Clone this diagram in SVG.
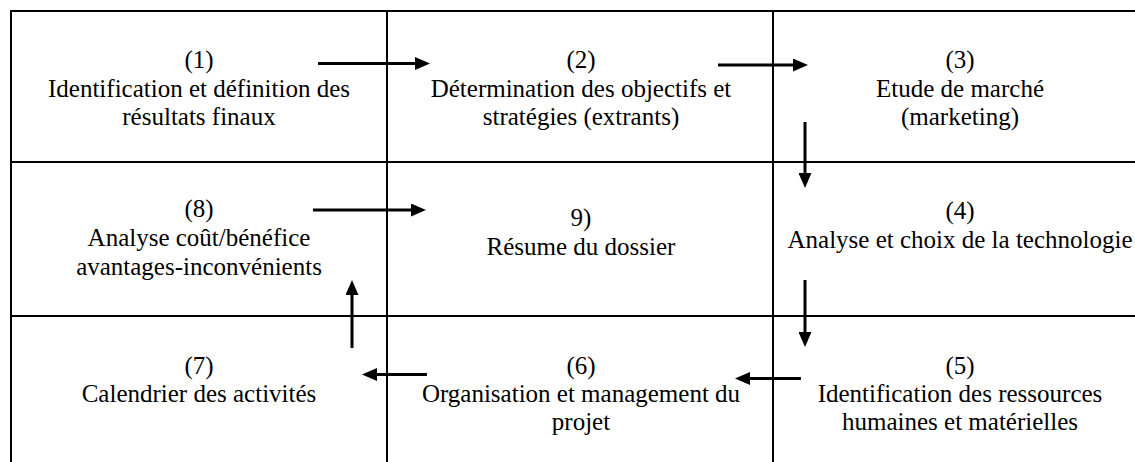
<svg xmlns="http://www.w3.org/2000/svg" width="1135" height="462" viewBox="0 0 1135 462">
<style>
.grid{stroke:#000;stroke-width:2;fill:none}
.arr{stroke:#000;stroke-width:3;fill:none;marker-end:url(#ah)}
text{font-family:"Liberation Serif","Times New Roman",serif;font-size:25px;fill:#000;text-anchor:middle}
</style>
<defs>
<marker id="ah" markerUnits="userSpaceOnUse" markerWidth="15" markerHeight="13" viewBox="0 0 15 13" refX="3" refY="6.5" orient="auto">
<path d="M0,0 L15,6.5 L0,13 Z" fill="#000"/>
</marker>
</defs>
<rect width="1135" height="462" fill="#fff"/>
<g id="grid">
<path class="grid" d="M11,462 V11 H1135 M387,11 V462 M773,11 V462 M11,162 H1135 M11,316 H1135"/>
</g>
<g id="n1"><text x="199" y="68">(1)</text><text x="199" y="97">Identification et définition des</text><text x="199" y="125">résultats finaux</text></g>
<g id="n2"><text x="581" y="68">(2)</text><text x="581" y="97">Détermination des objectifs et</text><text x="581" y="125">stratégies (extrants)</text></g>
<g id="n3"><text x="960" y="68">(3)</text><text x="960" y="97">Etude de marché</text><text x="960" y="125">(marketing)</text></g>
<g id="n4"><text x="960" y="219">(4)</text><text x="960" y="248">Analyse et choix de la technologie</text></g>
<g id="n5"><text x="960" y="374">(5)</text><text x="960" y="402">Identification des ressources</text><text x="960" y="430">humaines et matérielles</text></g>
<g id="n6"><text x="581" y="374">(6)</text><text x="581" y="402">Organisation et management du</text><text x="581" y="430">projet</text></g>
<g id="n7"><text x="199" y="374">(7)</text><text x="199" y="402">Calendrier des activités</text></g>
<g id="n8"><text x="199" y="217">(8)</text><text x="199" y="246">Analyse coût/bénéfice</text><text x="199" y="275">avantages-inconvénients</text></g>
<g id="n9"><text x="581" y="226">9)</text><text x="581" y="255">Résume du dossier</text></g>
<g id="connectors">
<path class="arr" d="M318,63.5 H418"/>
<path class="arr" d="M718,65 H796"/>
<path class="arr" d="M805,122 V176"/>
<path class="arr" d="M805,280 V335"/>
<path class="arr" d="M801,378.5 H747"/>
<path class="arr" d="M427,374.5 H374"/>
<path class="arr" d="M352,348 V292"/>
<path class="arr" d="M313,210 H414"/>
</g>
</svg>
